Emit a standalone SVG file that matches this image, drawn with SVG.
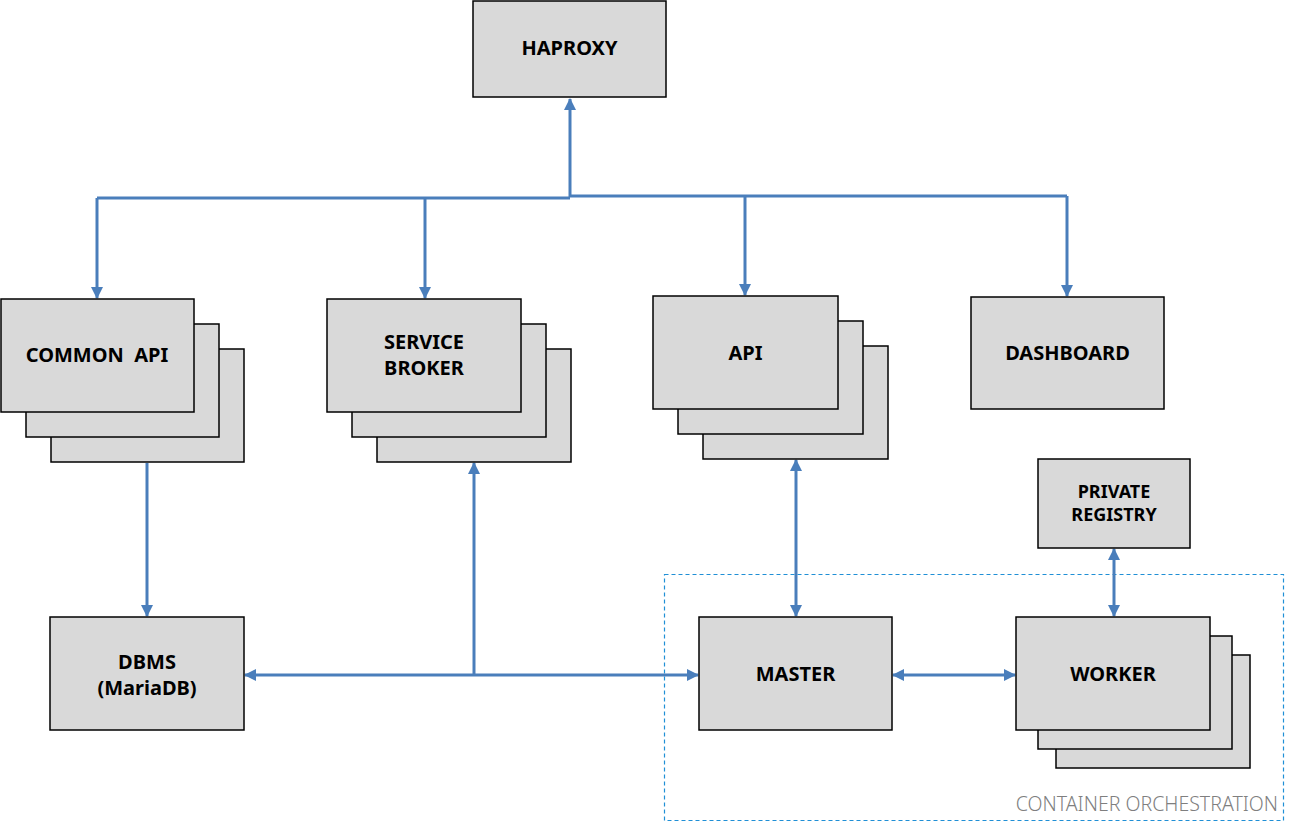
<svg xmlns="http://www.w3.org/2000/svg" width="1303" height="828" viewBox="0 0 1303 828">
<style>
.box{fill:#d9d9d9;stroke:#000;stroke-width:1.5}
.lbl{font-family:"Noto Sans","Liberation Sans",sans-serif;font-weight:bold;font-size:20px;fill:#000;text-anchor:middle}
.sm{font-size:18px}
.conn{fill:none;stroke:#4a7ebb;stroke-width:3}
.frame{fill:none;stroke:#1f8fd6;stroke-width:1.2;stroke-dasharray:4 3}
.cap{font-family:"Noto Sans","Liberation Sans",sans-serif;font-weight:300;font-size:19.5px;fill:#7f7f7f;text-anchor:end}
</style>
<defs>
<marker id="ah" markerUnits="userSpaceOnUse" markerWidth="12" markerHeight="12" viewBox="0 0 12 12" refX="11" refY="6" orient="auto-start-reverse">
<path d="M0,0 L12,6 L0,12 Z" fill="#4a7ebb"/>
</marker>
</defs>
<rect x="0" y="0" width="1303" height="828" fill="#fff"/>
<g id="container">
<rect class="frame" x="664.5" y="574.5" width="619" height="246"/>
<text class="cap" x="1278" y="811">CONTAINER ORCHESTRATION</text>
</g>
<g id="connectors">
<path class="conn" d="M570,197 V99" marker-end="url(#ah)"/>
<path class="conn" d="M97,198 H570 M570,196 H1067"/>
<path class="conn" d="M97,198 V298" marker-end="url(#ah)"/>
<path class="conn" d="M425,198 V298" marker-end="url(#ah)"/>
<path class="conn" d="M745,196 V295" marker-end="url(#ah)"/>
<path class="conn" d="M1067,196 V296" marker-end="url(#ah)"/>
<path class="conn" d="M147,463 V616" marker-end="url(#ah)"/>
<path class="conn" d="M245,675 H698" marker-start="url(#ah)" marker-end="url(#ah)"/>
<path class="conn" d="M474,675 V463" marker-end="url(#ah)"/>
<path class="conn" d="M796,460 V616" marker-start="url(#ah)" marker-end="url(#ah)"/>
<path class="conn" d="M893,675 H1015" marker-start="url(#ah)" marker-end="url(#ah)"/>
<path class="conn" d="M1114,549 V616" marker-start="url(#ah)" marker-end="url(#ah)"/>
</g>
<g id="haproxy">
<rect class="box" x="473" y="1" width="193" height="96"/>
<text class="lbl" x="569.5" y="55">HAPROXY</text>
</g>
<g id="common-api">
<rect class="box" x="51" y="349" width="193" height="113"/>
<rect class="box" x="26" y="324" width="193" height="113"/>
<rect class="box" x="1" y="299" width="193" height="113"/>
<text class="lbl" x="97" y="362" xml:space="preserve" style="white-space:pre">COMMON  API</text>
</g>
<g id="service-broker">
<rect class="box" x="377" y="349" width="194" height="113"/>
<rect class="box" x="352" y="324" width="194" height="113"/>
<rect class="box" x="327" y="299" width="194" height="113"/>
<text class="lbl" x="424" y="349">SERVICE</text>
<text class="lbl" x="424" y="375">BROKER</text>
</g>
<g id="api">
<rect class="box" x="703" y="346" width="185" height="113"/>
<rect class="box" x="678" y="321" width="185" height="113"/>
<rect class="box" x="653" y="296" width="185" height="113"/>
<text class="lbl" x="745.5" y="360">API</text>
</g>
<g id="dashboard">
<rect class="box" x="971" y="297" width="193" height="112"/>
<text class="lbl" x="1067.5" y="360">DASHBOARD</text>
</g>
<g id="private-registry">
<rect class="box" x="1038" y="459" width="152" height="89"/>
<text class="lbl sm" x="1114" y="498">PRIVATE</text>
<text class="lbl sm" x="1114" y="521">REGISTRY</text>
</g>
<g id="dbms">
<rect class="box" x="50" y="617" width="194" height="113"/>
<text class="lbl" x="147" y="669">DBMS</text>
<text class="lbl" x="147" y="695">(MariaDB)</text>
</g>
<g id="master">
<rect class="box" x="699" y="617" width="193" height="113"/>
<text class="lbl" x="795.5" y="681">MASTER</text>
</g>
<g id="worker">
<rect class="box" x="1056" y="655" width="194" height="113"/>
<rect class="box" x="1038" y="636" width="194" height="113"/>
<rect class="box" x="1016" y="617" width="194" height="113"/>
<text class="lbl" x="1113" y="681">WORKER</text>
</g>
</svg>
